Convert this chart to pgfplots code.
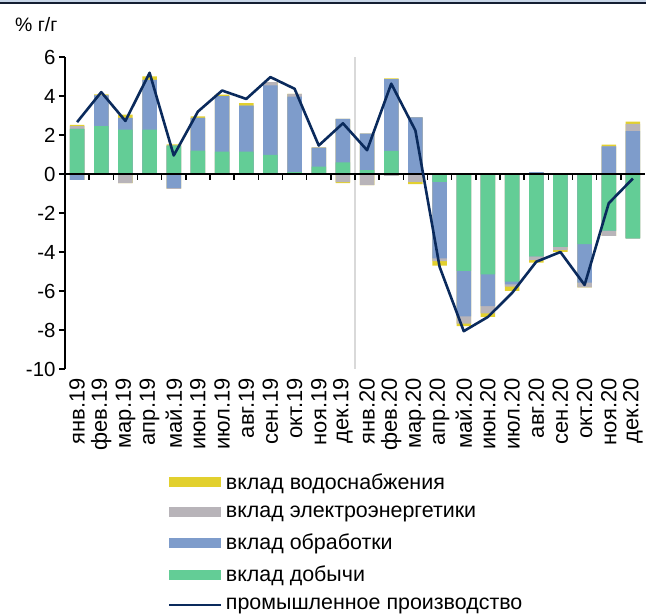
\documentclass[border=0pt]{standalone}
\usepackage{pgfplots}
\pgfplotsset{compat=1.18}
\usepackage{pgfplotstable}
\usepackage{fontspec}
\setmainfont{Liberation Sans}
\definecolor{cY}{RGB}{226,208,46}
\definecolor{cE}{RGB}{184,180,185}
\definecolor{cB}{RGB}{126,156,203}
\definecolor{cG}{RGB}{99,205,150}
\definecolor{cL}{RGB}{10,42,92}
\definecolor{cSep}{RGB}{217,217,217}
\definecolor{cTop}{RGB}{200,214,232}
\definecolor{cTopLine}{RGB}{20,30,50}
\pgfplotstableread{
idx Wp Ep Bp Gp Wn En Bn Gn line
0 2.52 2.45 2.32 2.32 -0.30 -0.30 -0.30 0 2.66
1 4.08 4.03 4.03 2.45 -0.05 -0.05 0 0 4.20
2 3.05 2.88 2.88 2.28 -0.47 -0.47 0 0 2.72
3 5.00 4.83 4.83 2.28 0 0 0 0 5.19
4 1.52 1.45 1.45 1.45 -0.76 -0.76 -0.71 0 0.95
5 2.95 2.88 2.88 1.20 0 0 0 0 3.20
6 4.07 3.99 3.99 1.15 -0.05 -0.05 0 0 4.28
7 3.63 3.51 3.51 1.15 -0.03 -0.03 0 0 3.85
8 4.71 4.71 4.54 0.98 0 0 0 0 4.97
9 4.11 4.11 3.97 0.10 -0.05 0 0 0 4.37
10 1.37 1.37 1.34 0.38 -0.05 0 0 0 1.46
11 2.83 2.83 2.83 0.60 -0.47 -0.42 0 0 2.60
12 2.07 2.07 2.07 0.20 -0.57 -0.57 0 0 1.22
13 4.90 4.86 4.86 1.18 -0.10 -0.10 0 0 4.63
14 2.90 2.90 2.90 0 -0.52 -0.40 -0.05 0 2.23
15 0 0 0 0 -4.70 -4.47 -4.33 -0.40 -4.76
16 0 0 0 0 -7.80 -7.67 -7.30 -4.97 -8.06
17 0 0 0 0 -7.33 -7.15 -6.78 -5.15 -7.33
18 0 0 0 0 -5.99 -5.78 -5.66 -5.52 -6.10
19 0.10 0.10 0.10 0 -4.54 -4.42 -4.22 -4.22 -4.50
20 0 0 0 0 -4.00 -3.91 -3.74 -3.74 -4.00
21 0 0 0 0 -5.82 -5.82 -5.57 -3.59 -5.69
22 1.50 1.42 1.42 0 -3.17 -3.17 -2.91 -2.91 -1.50
23 2.69 2.57 2.20 0 -3.30 -3.30 -3.30 -3.30 -0.23
}\data
\begin{document}
\begin{tikzpicture}
\path[use as bounding box] (0,0) rectangle (646bp,615bp);
\fill[cTop] (0,612.5bp) rectangle (646bp,615bp);
\draw[cTopLine, line width=2bp] (0,611.5bp) -- (646bp,611.5bp);
\node[anchor=base west, inner sep=0pt, font=\fontsize{19.5}{21}\selectfont] at (15bp,583bp) {\% г/г};
\begin{axis}[
  scale only axis, width=580bp, height=312bp,
  at={(65bp,246bp)}, anchor=south west,
  xmin=-0.5, xmax=23.5, ymin=-10, ymax=6,
  enlargelimits=false,
  axis y line*=left, axis x line*=bottom,
  x axis line style={draw=none},
  y axis line style={line width=1.6bp},
  xtick={0,...,23},
  xticklabels={янв.19,фев.19,мар.19,апр.19,май.19,июн.19,июл.19,авг.19,сен.19,окт.19,ноя.19,дек.19,янв.20,фев.20,мар.20,апр.20,май.20,июн.20,июл.20,авг.20,сен.20,окт.20,ноя.20,дек.20},
  x tick style={draw=none},
  xticklabel style={rotate=90, anchor=east, font=\fontsize{22}{24}\selectfont},
  ytick={-10,-8,...,6},
  y tick style={line width=1.4bp, black},
  tick align=outside, major tick length=6bp,
  yticklabel style={font=\fontsize{20.5}{22}\selectfont, /pgf/number format/assume math mode=true},
  legend style={at={(rel axis cs:0.177,-0.335)}, anchor=north west, draw=none, fill=none,
    inner sep=0pt, row sep=15bp, font=\fontsize{21.5}{23}\selectfont,
    nodes={inner xsep=3.5bp, inner ysep=0bp}},
  legend cell align=left,
]
\draw[cSep, line width=2bp] (axis cs:11.5,-10) -- (axis cs:11.5,6);
% positive side (overlaid cumulative tops)
\addplot[ybar, bar width=0.6, bar shift=0pt, fill=cY, draw=none,
  legend image code/.code={\fill[cY] (0bp,-5bp) rectangle (52bp,5bp);}] table[x=idx,y=Wp]{\data};
\addlegendentry{вклад водоснабжения}
\addplot[ybar, bar width=0.6, bar shift=0pt, fill=cE, draw=none,
  legend image code/.code={\fill[cE] (0bp,-5bp) rectangle (52bp,5bp);}] table[x=idx,y=Ep]{\data};
\addlegendentry{вклад электроэнергетики}
\addplot[ybar, bar width=0.6, bar shift=0pt, fill=cB, draw=none,
  legend image code/.code={\fill[cB] (0bp,-5bp) rectangle (52bp,5bp);}] table[x=idx,y=Bp]{\data};
\addlegendentry{вклад обработки}
\addplot[ybar, bar width=0.6, bar shift=0pt, fill=cG, draw=none,
  legend image code/.code={\fill[cG] (0bp,-5bp) rectangle (52bp,5bp);}] table[x=idx,y=Gp]{\data};
\addlegendentry{вклад добычи}
% negative side
\addplot[forget plot, ybar, bar width=0.6, bar shift=0pt, fill=cY, draw=none] table[x=idx,y=Wn]{\data};
\addplot[forget plot, ybar, bar width=0.6, bar shift=0pt, fill=cE, draw=none] table[x=idx,y=En]{\data};
\addplot[forget plot, ybar, bar width=0.6, bar shift=0pt, fill=cB, draw=none] table[x=idx,y=Bn]{\data};
\addplot[forget plot, ybar, bar width=0.6, bar shift=0pt, fill=cG, draw=none] table[x=idx,y=Gn]{\data};
% zero line and ticks
\draw[black, line width=1.6bp] (axis cs:-0.5,0) -- (axis cs:23.5,0);
\pgfplotsinvokeforeach{0.5,1.5,...,22.5}{\draw[black, line width=1.4bp] (axis cs:#1,0) -- ([yshift=-6bp]axis cs:#1,0);}
\addplot[cL, line width=2.6bp, line join=round, mark=none,
  legend image code/.code={\draw[cL, line width=2.6bp] (0bp,0bp) -- (52bp,0bp);}] table[x=idx,y=line]{\data};
\addlegendentry{промышленное производство}
\end{axis}
\end{tikzpicture}
\end{document}
